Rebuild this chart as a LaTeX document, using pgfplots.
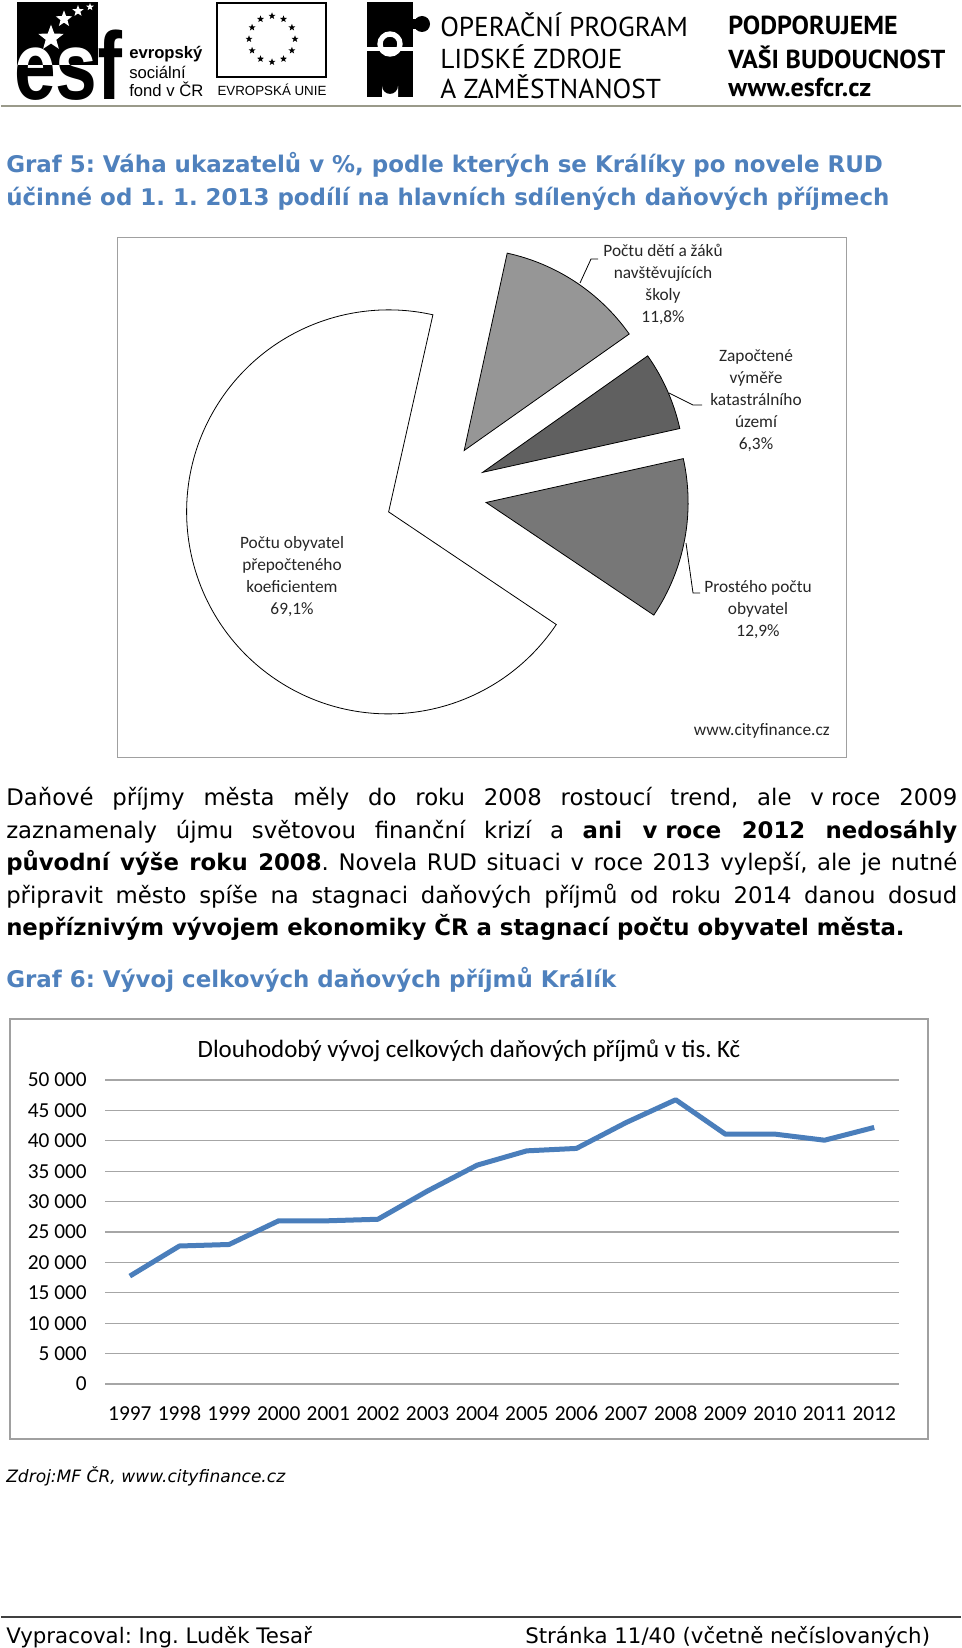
\documentclass[border=0pt]{standalone}
\usepackage{fontspec}
\setmainfont{DejaVu Sans}
\newfontfamily\calibri{Carlito}
\newfontfamily\helv{Liberation Sans}
\newfontfamily\dinf{PT Sans}
\usepackage{pgfplots}
\pgfplotsset{compat=1.18}
\usetikzlibrary{shapes.geometric}
\definecolor{headblue}{HTML}{4F81BD}
\definecolor{lineblue}{HTML}{4A7EBB}
\definecolor{gridgray}{HTML}{A6A6A6}
\definecolor{framegray}{HTML}{A0A0A0}
\definecolor{rulegray}{HTML}{9A9A8A}
\definecolor{sliceA}{HTML}{969696}
\definecolor{sliceB}{HTML}{606060}
\definecolor{sliceC}{HTML}{777777}

% podily ukazatelu (%)
\def\shA{11.8}\def\shB{6.3}\def\shC{12.9}\def\shD{69.1}

% vysec: start, konec, barva (stred 435,-493; posun 51 px; polomer 202 px)
\newcommand{\pieslice}[3]{%
  \filldraw[fill=#3, draw=black, line width=0.6pt]
    (axis cs:435,-493) ++({(#1+#2)/2}:38.25pt) -- ++(#1:151.5pt)
    arc[start angle=#1, end angle=#2, radius=151.5pt] -- cycle;}

\begin{document}
\frenchspacing
\begin{tikzpicture}[x=0.75pt,y=-0.75pt]
\fill[white] (0,0) rectangle (960,1648);

% ---------- hlavicka ----------
\fill[black] (16,2) rectangle (97,65);
\node[anchor=base west, inner sep=0pt, font=\helv\bfseries\fontsize{72}{72}\selectfont] at (13,100) {\scalebox{0.78}[1]{esf}};
\begin{scope}
  \clip (16,2) rectangle (97,65);
  \node[white, anchor=base west, inner sep=0pt, font=\helv\bfseries\fontsize{72}{72}\selectfont] at (13,100) {\scalebox{0.78}[1]{esf}};
\end{scope}
\node[star, star points=5, star point ratio=2.4, fill=white, inner sep=0pt, minimum size=20pt] at (50,38) {};
\node[star, star points=5, star point ratio=2.4, fill=white, inner sep=0pt, minimum size=13pt] at (63,19) {};
\node[star, star points=5, star point ratio=2.4, fill=white, inner sep=0pt, minimum size=9pt] at (77,11) {};
\node[star, star points=5, star point ratio=2.4, fill=white, inner sep=0pt, minimum size=6pt] at (89,7) {};
\node[anchor=west, inner sep=0pt, font=\helv\bfseries\fontsize{12.5}{15}\selectfont] at (128,54) {evropský};
\node[anchor=west, inner sep=0pt, font=\helv\fontsize{12.5}{15}\selectfont] at (128,72) {sociální};
\node[anchor=west, inner sep=0pt, font=\helv\fontsize{12.5}{15}\selectfont] at (128,89) {fond v ČR};

\draw[line width=1.5pt] (216,3) rectangle (325,77);
\foreach \a in {0,30,...,330}
  \node[star, star points=5, star point ratio=2.4, fill=black, inner sep=0pt, minimum size=5.5pt] at ({271+23*cos(\a)},{39+23*sin(\a)}) {};
\node[inner sep=0pt, font=\helv\fontsize{10}{12}\selectfont] at (271,90) {EVROPSKÁ UNIE};

\fill[black] (366,2) rectangle (412,47);
\fill[black] (366,51) rectangle (412,97);
\fill[black] (408,19) rectangle (416,29);
\fill[black] (421,24) circle (8);
\draw[white, line width=4pt] (389,44) circle (10);
\fill[white] (381,97) -- (381,86) arc[start angle=180, end angle=0, radius=8] -- (397,97) -- cycle;

\node[anchor=west, inner sep=0pt, font=\dinf\fontsize{20.5}{22}\selectfont] at (439,25) {OPERAČNÍ PROGRAM};
\node[anchor=west, inner sep=0pt, font=\dinf\fontsize{20.5}{22}\selectfont] at (439,57) {LIDSKÉ ZDROJE};
\node[anchor=west, inner sep=0pt, font=\dinf\fontsize{20.5}{22}\selectfont] at (439,87) {A ZAMĚSTNANOST};
\node[anchor=west, inner sep=0pt, font=\dinf\bfseries\fontsize{19.5}{22}\selectfont] at (727,25) {PODPORUJEME};
\node[anchor=west, inner sep=0pt, font=\dinf\bfseries\fontsize{19.5}{22}\selectfont] at (727,57) {VAŠI BUDOUCNOST};
\node[anchor=west, inner sep=0pt, font=\dinf\bfseries\fontsize{19.5}{22}\selectfont] at (727,87) {www.esfcr.cz};
\draw[rulegray, line width=1.5pt] (0,106) -- (960,106);

% ---------- Graf 5 ----------
\node[anchor=base west, inner sep=0pt, text=headblue, font=\bfseries\fontsize{17.2}{20}\selectfont] at (5,173) {Graf 5: Váha ukazatelů v \%, podle kterých se Králíky po novele RUD};
\node[anchor=base west, inner sep=0pt, text=headblue, font=\bfseries\fontsize{17.2}{20}\selectfont] at (5,205) {účinné od 1. 1. 2013 podílí na hlavních sdílených daňových příjmech};

\draw[framegray, line width=0.75pt] (116,237) rectangle (845,757);

\pgfmathsetmacro{\sA}{77.7}
\pgfmathsetmacro{\eA}{\sA-3.6*\shA}
\pgfmathsetmacro{\eB}{\eA-3.6*\shB}
\pgfmathsetmacro{\eC}{\eB-3.6*\shC}
\pgfmathsetmacro{\eD}{\eC-3.6*\shD}
\begin{axis}[at={(87pt,-567.75pt)}, anchor=south west, scale only axis,
  width=546.75pt, height=390pt,
  xmin=116, xmax=845, ymin=-757, ymax=-237, hide axis, clip=false]
\addplot[draw=none, forget plot] coordinates {(435,-493)};
\pieslice{\sA}{\eA}{sliceA}
\pieslice{\eA}{\eB}{sliceB}
\pieslice{\eB}{\eC}{sliceC}
\pieslice{\eC}{\eD}{white}
\end{axis}

\draw[line width=0.6pt] (579,283) -- (590,259) -- (597,259);
\draw[line width=0.6pt] (668,393) -- (692,405) -- (701,405);
\draw[line width=0.6pt] (685,543) -- (692,593) -- (699,593);
\begin{scope}[every node/.style={align=center, inner sep=0pt, text=black!85, font=\calibri\fontsize{13}{16.5}\selectfont}]
\node at (662,284) {Počtu dětí a žáků\\navštěvujících\\školy\\11,8\%};
\node at (755,401) {Započtené\\výměře\\katastrálního\\území\\6,3\%};
\node at (757,610) {Prostého počtu\\obyvatel\\12,9\%};
\node at (291,577) {Počtu obyvatel\\přepočteného\\koeficientem\\69,1\%};
\node[anchor=east] at (829,731) {www.cityfinance.cz};
\end{scope}

% ---------- text ----------
\begin{scope}[every node/.style={anchor=base west, inner sep=0pt, font=\fontsize{17.1}{20}\selectfont}]
\node at (5,805) {\makebox[713.25pt][s]{Daňové příjmy města měly do roku 2008 rostoucí trend, ale \mbox{v roce} 2009}};
\node at (5,838) {\makebox[713.25pt][s]{zaznamenaly újmu světovou finanční krizí a \textbf{ani \mbox{v roce} 2012 nedosáhly}}};
\node at (5,870) {\makebox[713.25pt][s]{\textbf{původní výše roku 2008}. Novela RUD situaci v roce 2013 vylepší, ale je nutné}};
\node at (5,903) {\makebox[713.25pt][s]{připravit město spíše na stagnaci daňových příjmů od roku 2014 danou dosud}};
\node at (5,935) {\textbf{nepříznivým vývojem ekonomiky ČR a stagnací počtu obyvatel města.}};
\end{scope}

% ---------- Graf 6 ----------
\node[anchor=base west, inner sep=0pt, text=headblue, font=\bfseries\fontsize{17.2}{20}\selectfont] at (5,987) {Graf 6: Vývoj celkových daňových příjmů Králík};

\draw[framegray, line width=1.1pt] (9,1019) rectangle (927,1439);
\node[inner sep=0pt, font=\calibri\fontsize{18.7}{21}\selectfont] at (468,1051) {Dlouhodobý vývoj celkových daňových příjmů v tis. Kč};

\begin{axis}[at={(78pt,-1038pt)}, anchor=south west, scale only axis,
  width=595.5pt, height=228pt,
  xmin=-0.5, xmax=15.5, ymin=0, ymax=50000,
  axis line style={draw=none},
  ymajorgrids, grid style={draw=gridgray, line width=0.9pt},
  xtick={0,...,15},
  xticklabels={1997,1998,1999,2000,2001,2002,2003,2004,2005,2006,2007,2008,2009,2010,2011,2012},
  ytick={0,5000,...,50000},
  yticklabels={0,5 000,10 000,15 000,20 000,25 000,30 000,35 000,40 000,45 000,50 000},
  major tick length=0pt, scaled y ticks=false, clip=false,
  tick label style={font=\calibri\fontsize{16}{19}\selectfont},
  yticklabel style={anchor=east, inner sep=0pt, xshift=-13.5pt},
  xticklabel style={anchor=base, inner sep=0pt, yshift=-27pt}]
\addplot[lineblue, line width=3.75pt, line join=round] coordinates {
  (0,17750) (1,22700) (2,22950) (3,26850) (4,26850) (5,27100) (6,31750) (7,36000)
  (8,38350) (9,38750) (10,43000) (11,46750) (12,41100) (13,41100) (14,40100) (15,42200)};
\end{axis}

\node[anchor=base west, inner sep=0pt, font=\itshape\fontsize{12.8}{15}\selectfont] at (5,1482) {Zdroj:MF ČR, www.cityfinance.cz};

% ---------- paticka ----------
\draw[black!75, line width=1.2pt] (0,1617) -- (960,1617);
\node[anchor=base west, inner sep=0pt, font=\fontsize{16}{19}\selectfont] at (5,1643) {Vypracoval: Ing. Luděk Tesař};
\node[anchor=base west, inner sep=0pt, font=\fontsize{16}{19}\selectfont] at (524,1643) {Stránka 11/40 (včetně nečíslovaných)};
\end{tikzpicture}
\end{document}
